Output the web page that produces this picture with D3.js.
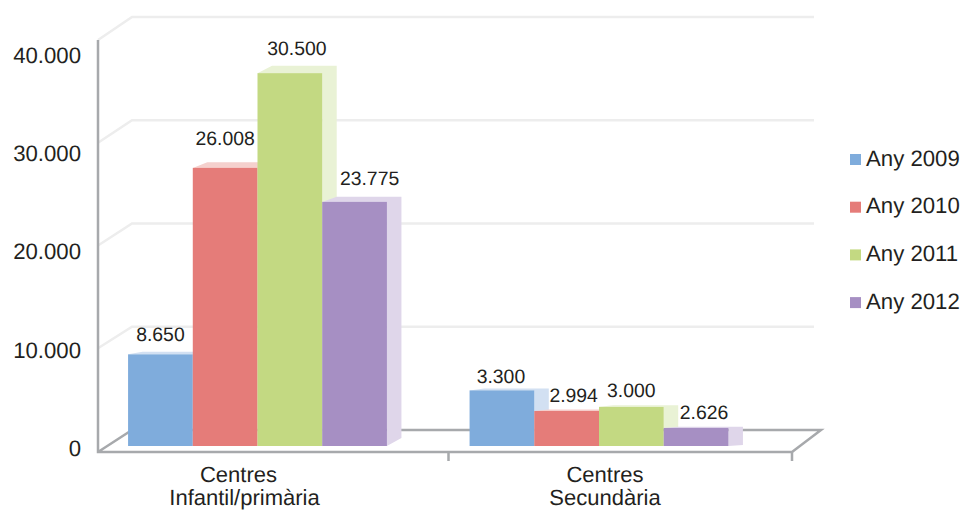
<!DOCTYPE html>
<html>
<head>
<meta charset="utf-8">
<style>
  html, body { margin: 0; padding: 0; background: #fff; overflow: hidden; }
  svg { display: block; }
  text { font-family: "Liberation Sans", Arial, sans-serif; fill: #231f20; text-rendering: geometricPrecision; }
</style>
</head>
<body>
<div id="chart"></div>
<script src="https://cdn.jsdelivr.net/npm/d3@7"></script>
<script>
// data: bar heights as they sit against the axis, labels as printed on the picture
const categories = [['Centres', 'Infantil/primària'], ['Centres', 'Secundària']];
const years = ['Any 2009', 'Any 2010', 'Any 2011', 'Any 2012'];
const any2009 = [8900, 5400];
const any2010 = [27000, 3400];
const any2011 = [36200, 3800];
const any2012 = [23700, 1750];
const labels2009 = ['8.650', '3.300'];
const labels2010 = ['26.008', '2.994'];
const labels2011 = ['30.500', '3.000'];
const labels2012 = ['23.775', '2.626'];
const yTicks = [0, 10000, 20000, 30000, 40000];

const seriesValues = [any2009, any2010, any2011, any2012];
const seriesLabels = [labels2009, labels2010, labels2011, labels2012];

const colors = ['#7facdc', '#e57c79', '#c3d982', '#a68fc3'];
const lightColors = ['#d2e0f2', '#f5d0cd', '#e9f2d5', '#dfd6ea'];
const gridColor = '#ededed';
const axisColor = '#a7a9ac';

// label nudges by hand, [dx, gap above the bar]
const labelNudge = [
  [[0, 13], [-1, 7]],
  [[0, 23], [7, 9]],
  [[7, 18], [0, 10]],
  [[15, 17], [8, 9]]
];
const sideRise = [8, 1];   // how far the side face climbs at its foot, per group
const sideDepth = 14.5;

const svg = d3.select('#chart').append('svg')
  .attr('width', 961)
  .attr('height', 510);

// scales
const yBack = d3.scaleLinear().domain([0, 40000]).range([430, 17]);
const yFront = d3.scaleLinear().domain([0, 40000]).range([451, 40]);
const yBar = d3.scaleLinear().domain([0, 40000]).range([446, 34]);
const yLabel = d3.scaleLinear().domain([0, 40000]).range([448, 55.7]);
const topDepth = d3.scaleLinear().domain([0, 36200]).range([1, 7.3]);

const x0 = d3.scaleBand()
  .domain(d3.range(categories.length))
  .range([86.75, 769.75])
  .paddingInner(0.242)
  .paddingOuter(0.121);
const x1 = d3.scaleBand()
  .domain(d3.range(years.length))
  .range([0, x0.bandwidth()]);

// back wall grid
const grid = svg.append('g')
  .attr('fill', 'none')
  .attr('stroke', gridColor)
  .attr('stroke-width', 2.5);
grid.selectAll('path')
  .data(yTicks.slice(1))
  .enter()
  .append('path')
  .attr('d', (d) => `M98,${yFront(d)}L132,${yBack(d)}L814,${yBack(d)}`);

// floor and axis
const frame = svg.append('g')
  .attr('fill', 'none')
  .attr('stroke', axisColor)
  .attr('stroke-width', 2.5);
frame.append('path').attr('d', `M98,${yFront(40000)}V${yFront(0) + 1}H792L821,${yBack(0)}H132L98,${yFront(0) + 1}`);
frame.append('path').attr('d', `M448.5,${yFront(0)}V461M792,${yFront(0)}V461`);

// bars
seriesValues.forEach((values, s) => {
  const g = svg.append('g');
  const bars = g.selectAll('g')
    .data(values)
    .enter()
    .append('g');

  bars.append('polygon')
    .attr('fill', lightColors[s])
    .attr('points', (d, i) => {
      const left = x0(i) + x1(s);
      const right = left + x1.bandwidth();
      const top = yBar(d);
      const back = top - topDepth(d);
      return [
        [left, top], [left + sideDepth, back], [right + sideDepth, back],
        [right + sideDepth, yBar(0) - sideRise[i]], [right, yBar(0)], [right, top]
      ].join(' ');
    });

  bars.append('rect')
    .attr('fill', colors[s])
    .attr('x', (d, i) => x0(i) + x1(s))
    .attr('y', (d) => yBar(d))
    .attr('width', x1.bandwidth())
    .attr('height', (d) => yBar(0) - yBar(d));
});

// value labels, on top of every bar
seriesValues.forEach((values, s) => {
  svg.append('g').selectAll('text')
    .data(values)
    .enter()
    .append('text')
    .attr('x', (d, i) => x0(i) + x1(s) + x1.bandwidth() / 2 + labelNudge[s][i][0])
    .attr('y', (d, i) => yBar(d) - labelNudge[s][i][1])
    .attr('text-anchor', 'middle')
    .attr('font-size', 19.4)
    .text((d, i) => seriesLabels[s][i]);
});

// y axis labels
const dotLocale = d3.formatLocale({decimal: ',', thousands: '.', grouping: [3], currency: ['', '']});
const yAxis = d3.axisLeft(yLabel)
  .tickValues(yTicks)
  .tickFormat(dotLocale.format(','))
  .tickSize(0)
  .tickPadding(0);
const yAxisGroup = svg.append('g')
  .attr('transform', 'translate(81, 0)')
  .call(yAxis);
yAxisGroup.select('.domain').remove();
yAxisGroup.selectAll('text')
  .attr('font-size', 22.2)
  .attr('font-family', '"Liberation Sans", Arial, sans-serif')
  .attr('fill', '#231f20');

// category labels
const catCenter = [[238.5, 244.5], [605, 605]];
categories.forEach((lines, i) => {
  svg.append('g').selectAll('text')
    .data(lines)
    .enter()
    .append('text')
    .attr('x', (d, j) => catCenter[i][j])
    .attr('y', (d, j) => 482 + j * 23)
    .attr('text-anchor', 'middle')
    .attr('font-size', 22)
    .text((d) => d);
});

// legend
const legendItems = svg.append('g').selectAll('g')
  .data(years)
  .enter()
  .append('g')
  .attr('transform', (d, i) => `translate(850, ${154 + i * 47.7})`);
legendItems.append('rect')
  .attr('width', 11)
  .attr('height', 11)
  .attr('fill', (d, i) => colors[i]);
legendItems.append('text')
  .attr('x', 16)
  .attr('y', 11.5)
  .attr('font-size', 22.2)
  .text((d) => d);
</script>
</body>
</html>
